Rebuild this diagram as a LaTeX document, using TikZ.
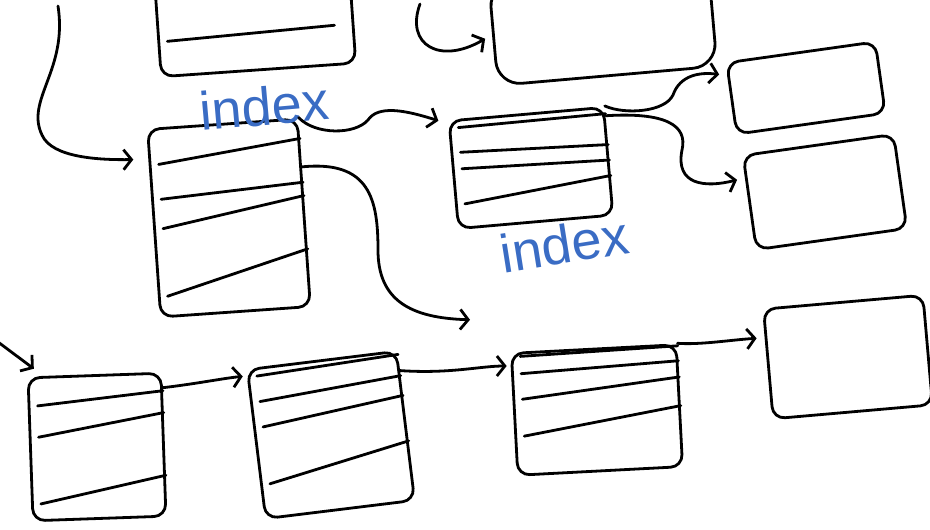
\documentclass[tikz,border=0pt]{standalone}
\usepackage{fontspec}
\setmainfont{Liberation Sans}
\usetikzlibrary{positioning,calc,arrows.meta}

\definecolor{inkblue}{RGB}{58,108,196}

\tikzset{
  ink/.style={line width=2.8pt, line cap=round, line join=round},
  page/.style={ink, draw, rounded corners=12pt, inner sep=0pt},
  entry/.style={ink, shorten <=10pt},
  link/.style={ink, shorten >=8pt, -{Straight Barb[length=8pt,width=20pt]}},
  scrawl/.style={text=inkblue, inner sep=0pt, font=\fontsize{54}{54}\selectfont},
}

\begin{document}
\begin{tikzpicture}[x=1pt,y=1pt]
\useasboundingbox (0,0) rectangle (930,-530);
\clip (0,0) rectangle (930,-530);

% pages
\node[page, minimum width=195pt, minimum height=100pt, rotate=4] (t1) at (255,-20) {};
\node[page, minimum width=220pt, minimum height=102pt, rotate=5, rounded corners=24pt] (t2) at (603,-25) {};
\node[page, minimum width=150pt, minimum height=72pt, rotate=8] (r1) at (806,-88) {};
\node[page, minimum width=152pt, minimum height=95pt, rotate=8] (r2) at (825,-192) {};
\node[page, minimum width=150pt, minimum height=188pt, rotate=4] (ia) at (229,-218) {};
\node[page, minimum width=155pt, minimum height=108pt, rotate=5] (ib) at (531,-168) {};
\node[page, minimum width=133pt, minimum height=143pt, rotate=2] (lc) at (97,-447) {};
\node[page, minimum width=150pt, minimum height=150pt, rotate=7] (ld) at (331,-435) {};
\node[page, minimum width=165pt, minimum height=122pt, rotate=3] (le) at (597,-410) {};
\node[page, minimum width=160pt, minimum height=110pt, rotate=5] (rf) at (848,-357) {};

% entries
\draw[entry, shorten >=20pt] ($(t1.north west)!0.65!(t1.south west)$) -- ($(t1.north east)!0.6!(t1.south east)$);
\foreach \l/\r in {0.2/0.11, 0.38/0.34, 0.54/0.41, 0.9/0.69}
  \draw[entry] ($(ia.north west)!\l!(ia.south west)$) -- ($(ia.north east)!\r!(ia.south east)$);
\foreach \l/\r in {0.08/0.07, 0.3/0.35, 0.45/0.49, 0.78/0.63}
  \draw[entry] ($(ib.north west)!\l!(ib.south west)$) -- ($(ib.north east)!\r!(ib.south east)$);
\foreach \l/\r in {0.21/0.13, 0.43/0.28, 0.89/0.71}
  \draw[entry] ($(lc.north west)!\l!(lc.south west)$) -- ($(lc.north east)!\r!(lc.south east)$);
\foreach \l/\r in {0.06/0.03, 0.23/0.17, 0.4/0.3, 0.78/0.6}
  \draw[entry] ($(ld.north west)!\l!(ld.south west)$) -- ($(ld.north east)!\r!(ld.south east)$);
\foreach \l/\r in {0.04/0.02, 0.18/0.14, 0.39/0.27, 0.69/0.5}
  \draw[entry] ($(le.north west)!\l!(le.south west)$) -- ($(le.north east)!\r!(le.south east)$);

% labels
\node[scrawl, rotate=5] (idxa) at (264,-106) {index};
\node[scrawl, rotate=9] (idxb) at (564,-244) {index};

% loose ends
\coordinate (s1) at (58,-6);
\coordinate (s6) at (-2,-342);
\coordinate (s10) at (420,-4);
\coordinate (c3end) at (478,-320);

% links
\draw[link, shorten >=15pt] (s1) .. controls (68,-70) and (25,-100) .. (42,-135)
  .. controls (52,-158) and (100,-160) .. (ia.140);
\draw[link] (s10) .. controls (405,-45) and (440,-65) .. (t2.west);
\draw[link, shorten >=10pt] (ia.north east) .. controls (315,-135) and (355,-135) .. (368,-120)
  .. controls (378,-105) and (405,-110) .. (ib.147);
\draw[link] (ia.31) .. controls (370,-160) and (378,-200) .. (378,-250)
  .. controls (378,-300) and (410,-318) .. (c3end);
\draw[link] (ib.north east) .. controls (625,-115) and (665,-112) .. (673,-95)
  .. controls (680,-75) and (700,-72) .. (r1.163);
\draw[link] (ib.30) .. controls (665,-112) and (688,-125) .. (682,-150)
  .. controls (675,-185) and (705,-188) .. (r2.162);
\draw[link, shorten >=12pt] (s6) -- (lc.125);
\draw[link, shorten >=4pt] (lc.40) .. controls (195,-384) and (225,-378) .. (ld.138);
\draw[link, shorten >=4pt] (ld.36) .. controls (450,-374) and (480,-366) .. (le.150);
\draw[link] (le.north east) .. controls (700,-345) and (730,-340) .. (rf.162);
\end{tikzpicture}
\end{document}
